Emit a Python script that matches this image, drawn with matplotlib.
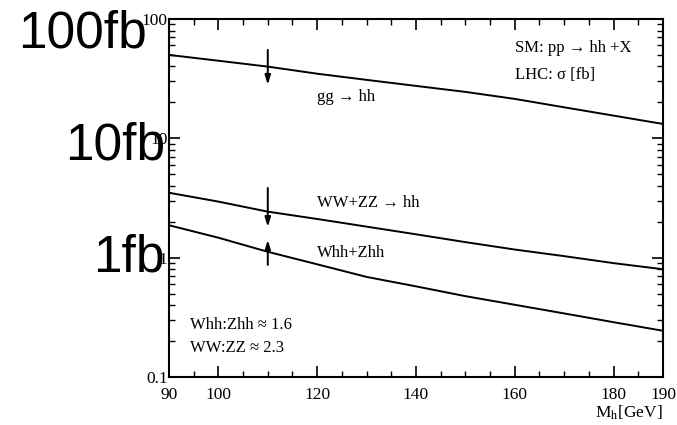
import numpy as np
import matplotlib
matplotlib.use("Agg")
import matplotlib.pyplot as plt
from matplotlib.ticker import FixedLocator, MultipleLocator, LogLocator, NullFormatter

plt.rcParams["font.family"] = ["Liberation Serif", "DejaVu Serif"]
plt.rcParams["mathtext.fontset"] = "stix"

# Higgs mass grid [GeV]
mh = [90, 100, 110, 120, 130, 140, 150, 160, 170, 180, 190]

# cross sections [fb]
sigma_gg = [50.0, 44.7, 39.9, 34.8, 30.9, 27.5, 24.5, 21.4, 18.2, 15.5, 13.2]
sigma_ww = [3.5, 2.95, 2.43, 2.11, 1.82, 1.57, 1.35, 1.17, 1.03, 0.90, 0.80]
sigma_vhh = [1.87, 1.47, 1.12, 0.88, 0.69, 0.575, 0.476, 0.403, 0.341, 0.288, 0.244]

xtick_vals = [90, 100, 120, 140, 160, 180, 190]
ytick_vals = [0.1, 1, 10, 100]
ytick_labels = ["0.1", "1", "10", "100"]

# arrows at Mh = 110: (tail, head)
arrow_x = 110
arrow_gg = (55.1, 28.1)
arrow_ww = (3.84, 1.81)
arrow_vhh = (0.87, 1.41)

fig = plt.figure(figsize=(6.77, 4.25), dpi=100)
ax = fig.add_axes([0.2496, 0.1129, 0.7297, 0.8424])

for s in (sigma_gg, sigma_ww, sigma_vhh):
    ax.plot(mh, s, color="black", lw=1.4)

ax.set_yscale("log")
ax.set_xlim(90, 190)
ax.set_ylim(0.1, 100)

ax.xaxis.set_major_locator(FixedLocator(xtick_vals))
ax.xaxis.set_minor_locator(MultipleLocator(5))
ax.yaxis.set_major_locator(FixedLocator(ytick_vals))
ax.set_yticklabels(ytick_labels)
ax.yaxis.set_minor_locator(LogLocator(base=10, subs=np.arange(2, 10)))
ax.yaxis.set_minor_formatter(NullFormatter())

ax.tick_params(which="both", direction="in", top=True, right=True, labelsize=12.5)
ax.tick_params(which="major", length=8, width=1.2)
ax.tick_params(which="minor", length=4.5, width=1.0)
ax.tick_params(axis="y", pad=1)
ax.tick_params(axis="x", pad=7)
for sp in ax.spines.values():
    sp.set_linewidth(1.5)

for tail, head in (arrow_gg, arrow_ww, arrow_vhh):
    ax.annotate("", xy=(arrow_x, head), xytext=(arrow_x, tail),
                arrowprops=dict(arrowstyle="-|>,head_length=0.55,head_width=0.17",
                                color="black", lw=1.4, shrinkA=0, shrinkB=0))

fs = 12
ax.text(120, 22.2, "gg \u2192 hh", fontsize=fs, va="center")
ax.text(120, 2.87, "WW+ZZ \u2192 hh", fontsize=fs, va="center")
ax.text(120, 1.095, "Whh+Zhh", fontsize=fs, va="center")
ax.text(160, 57.3, "SM: pp \u2192 hh +X", fontsize=fs, va="center")
ax.text(160, 34.0, "LHC: \u03c3 [fb]", fontsize=fs, va="center")
ax.text(94.25, 0.273, "Whh:Zhh \u2248 1.6", fontsize=fs, va="center")
ax.text(94.25, 0.174, "WW:ZZ \u2248 2.3", fontsize=fs, va="center")

ax.text(1.0, -0.10, r"M$_{\rm h}$[GeV]", transform=ax.transAxes,
        ha="right", va="center", fontsize=12.5)

# big overlay labels
big = dict(family=["Liberation Sans", "DejaVu Sans"], fontsize=37,
           color="black", ha="left", va="baseline")
fig.text(18 / 677, 1 - 47 / 425, "100fb", **big)
fig.text(65 / 677, 1 - 159 / 425, "10fb", **big)
fig.text(93 / 677, 1 - 272 / 425, "1fb", **big)

fig.savefig("out.png", dpi=100)
